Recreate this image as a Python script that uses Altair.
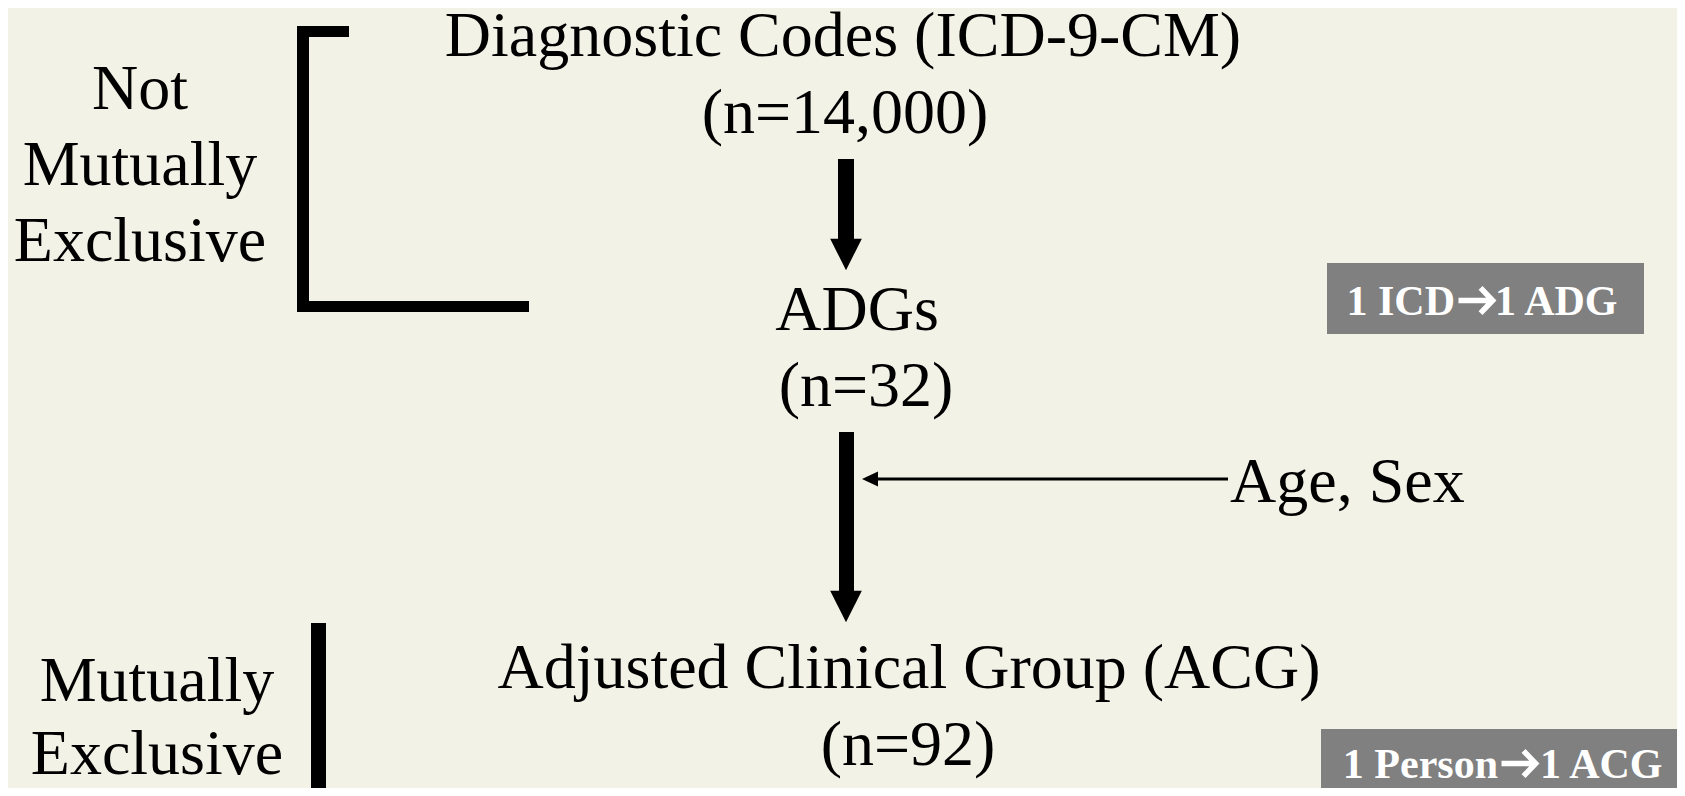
import altair as alt
import pandas as pd

# canvas (reference pixel coordinates are used as data coordinates)
W, H = 1669, 780
X0, Y0 = 8, 8
BG = "#F3F2E7"

# central flow texts
main_labels = ["Diagnostic Codes (ICD-9-CM)", "(n=14,000)", "ADGs", "(n=32)",
               "Adjusted Clinical Group (ACG)", "(n=92)"]
main_x = [843, 845, 857, 866, 909, 908]
main_y = [56, 133, 330, 406, 688, 765]

# side texts
side_labels = ["Not", "Mutually", "Exclusive", "Mutually", "Exclusive"]
side_x = [140, 140, 140, 157, 157]
side_y = [109, 185, 261, 701, 774]

# input text
input_labels = ["Age, Sex"]
input_x = [1230]
input_y = [502]

# grey boxes
box_x0 = [1327, 1321]
box_x1 = [1644, 1677]
box_y0 = [263, 729]
box_y1 = [334, 788]
# box texts: "<from>" -> "<to>"
box_from = ["1 ICD", "1 Person"]
box_to = ["1 ADG", "1 ACG"]
box_from_x = [1455, 1498]
box_arrow_x = [1476, 1519]
box_to_x = [1495, 1540]
box_ty = [315, 778]
box_arrow_y = [300.5, 763.5]

# black bars (bracket pieces and arrow shafts)
bar_names = ["bracket_v", "bracket_top", "bracket_bottom", "bar_bottom", "shaft1", "shaft2"]
bar_x0 = [297, 297, 297, 311, 838, 839]
bar_x1 = [309, 349, 529, 326, 854, 854]
bar_y0 = [26, 26, 301, 623, 159, 432]
bar_y1 = [312, 37, 312, 788, 242, 594]

# thick arrow heads
head_x = [846, 846]
head_y = [254.5, 606.5]

# thin arrow
thin_x0, thin_x1, thin_y = [868], [1228], [479]
thin_head_x, thin_head_y = [870], [479]

xs = alt.Scale(domain=[X0, X0 + W], nice=False, zero=False)
ys = alt.Scale(domain=[Y0 + H, Y0], nice=False, zero=False)


def X(f):
    return alt.X(f, type="quantitative", scale=xs, axis=None)


def Y(f):
    return alt.Y(f, type="quantitative", scale=ys, axis=None)


main_df = pd.DataFrame({"t": main_labels, "x": main_x, "y": main_y})
side_df = pd.DataFrame({"t": side_labels, "x": side_x, "y": side_y})
inp_df = pd.DataFrame({"t": input_labels, "x": input_x, "y": input_y})
box_df = pd.DataFrame({"x0": box_x0, "x1": box_x1, "y0": box_y0, "y1": box_y1,
                       "f": box_from, "t": box_to, "fx": box_from_x, "tx": box_to_x,
                       "ax": box_arrow_x, "ay": box_arrow_y, "ty": box_ty})
bar_df = pd.DataFrame({"n": bar_names, "x0": bar_x0, "x1": bar_x1, "y0": bar_y0, "y1": bar_y1})
head_df = pd.DataFrame({"x": head_x, "y": head_y})
thin_df = pd.DataFrame({"x0": thin_x0, "x1": thin_x1, "y": thin_y})
thin_head_df = pd.DataFrame({"x": thin_head_x, "y": thin_head_y})

FONT = "Liberation Serif"

main_text = alt.Chart(main_df).mark_text(
    font=FONT, fontSize=64, color="black", align="center", baseline="alphabetic"
).encode(x=X("x"), y=Y("y"), text="t:N")

side_text = alt.Chart(side_df).mark_text(
    font=FONT, fontSize=64, color="black", align="center", baseline="alphabetic"
).encode(x=X("x"), y=Y("y"), text="t:N")

inp_text = alt.Chart(inp_df).mark_text(
    font=FONT, fontSize=64, color="black", align="left", baseline="alphabetic"
).encode(x=X("x"), y=Y("y"), text="t:N")

boxes = alt.Chart(box_df).mark_rect(color="#808080").encode(
    x=X("x0"), x2="x1", y=Y("y0"), y2="y1")

box_from_text = alt.Chart(box_df).mark_text(
    font=FONT, fontSize=42, fontWeight="bold", color="white", align="right", baseline="alphabetic"
).encode(x=X("fx"), y=Y("ty"), text="f:N")

box_to_text = alt.Chart(box_df).mark_text(
    font=FONT, fontSize=42, fontWeight="bold", color="white", align="left", baseline="alphabetic"
).encode(x=X("tx"), y=Y("ty"), text="t:N")

box_arrows = alt.Chart(box_df).mark_point(
    shape="M-1,0L0.9,0M0.26,-0.72L0.95,0L0.26,0.72", size=1225, filled=False,
    color="white", opacity=1, strokeWidth=5.5, strokeJoin="miter", strokeCap="butt"
).encode(x=X("ax"), y=Y("ay"))

bars = alt.Chart(bar_df).mark_rect(color="black").encode(
    x=X("x0"), x2="x1", y=Y("y0"), y2="y1")

heads = alt.Chart(head_df).mark_point(
    shape="M-1,-1L1,-1L0,1Z", size=1000, filled=True, color="black", opacity=1, strokeWidth=0
).encode(x=X("x"), y=Y("y"))

thin_line = alt.Chart(thin_df).mark_rule(color="black", strokeWidth=3).encode(
    x=X("x0"), x2="x1", y=Y("y"))

thin_head = alt.Chart(thin_head_df).mark_point(
    shape="M-1,0L1,-0.94L1,0.94Z", size=256, filled=True, color="black", opacity=1, strokeWidth=0
).encode(x=X("x"), y=Y("y"))

chart = alt.layer(
    boxes, bars, heads, thin_line, thin_head, main_text, side_text, inp_text,
    box_from_text, box_to_text, box_arrows
).properties(
    width=W, height=H, background=BG, padding=0, autosize=alt.AutoSizeParams(type="none")
).configure_view(stroke=None)

chart.save("out.html", embed_options={"renderer": "svg", "actions": False})
